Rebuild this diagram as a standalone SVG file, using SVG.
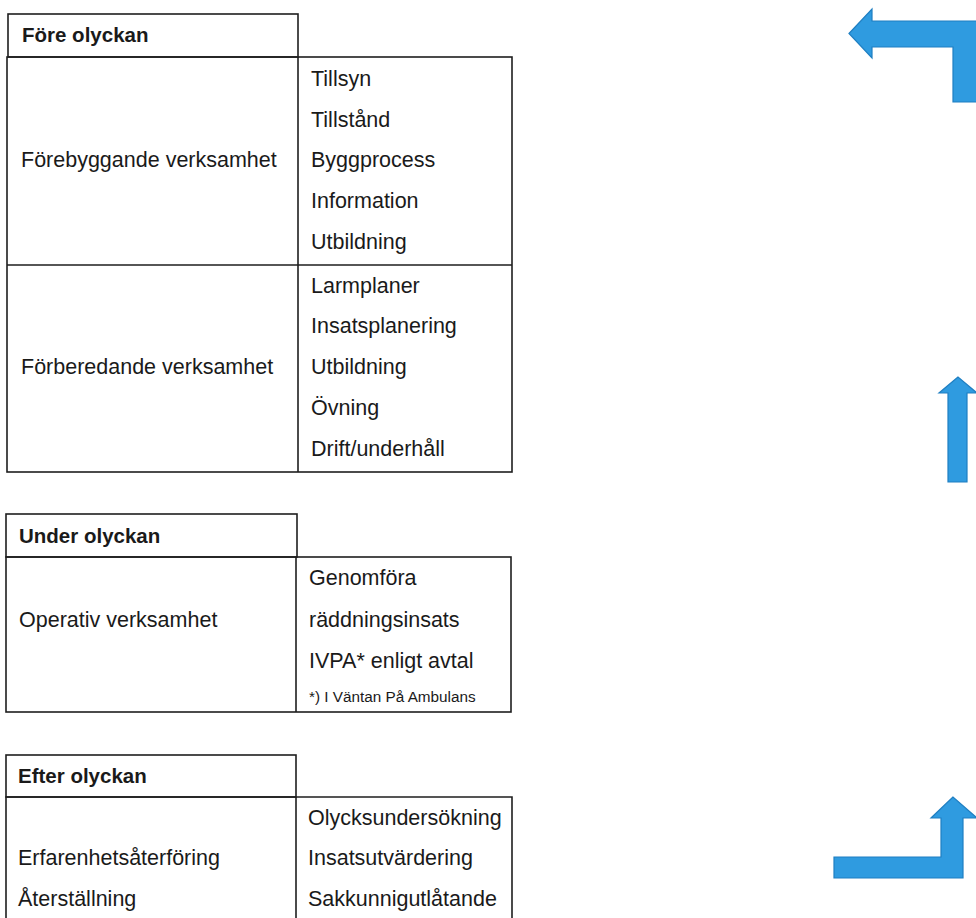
<svg xmlns="http://www.w3.org/2000/svg" width="976" height="918" viewBox="0 0 976 918">
<style>
.bx{fill:none;stroke:#1e1e1e;stroke-width:1.6}
.t{font-family:"Liberation Sans",Arial,sans-serif;font-size:21.5px;fill:#1a1a1a}
.h{font-family:"Liberation Sans",Arial,sans-serif;font-size:20.5px;font-weight:bold;fill:#1a1a1a}
.s{font-family:"Liberation Sans",Arial,sans-serif;font-size:15.3px;fill:#1a1a1a}
.ar{fill:#2f9be0;stroke:#1f7fc2;stroke-width:1.2}
</style>
<rect width="976" height="918" fill="#ffffff"/>

<g id="fore">
<rect class="bx" x="8" y="14" width="290" height="43"/>
<rect class="bx" x="7" y="57" width="505" height="415"/>
<line class="bx" x1="298" y1="57" x2="298" y2="472"/>
<line class="bx" x1="7" y1="265" x2="512" y2="265"/>
<text class="h" x="22" y="42">Före olyckan</text>
<text class="t" x="21" y="167">Förebyggande verksamhet</text>
<text class="t" x="311" y="86">Tillsyn</text>
<text class="t" x="311" y="127">Tillstånd</text>
<text class="t" x="311" y="167">Byggprocess</text>
<text class="t" x="311" y="208">Information</text>
<text class="t" x="311" y="249">Utbildning</text>
<text class="t" x="21" y="374">Förberedande verksamhet</text>
<text class="t" x="311" y="293">Larmplaner</text>
<text class="t" x="311" y="333">Insatsplanering</text>
<text class="t" x="311" y="374">Utbildning</text>
<text class="t" x="311" y="415">Övning</text>
<text class="t" x="311" y="456">Drift/underhåll</text>
</g>

<g id="under">
<rect class="bx" x="6" y="514" width="291" height="43"/>
<rect class="bx" x="6" y="557" width="505" height="155"/>
<line class="bx" x1="296" y1="557" x2="296" y2="712"/>
<text class="h" x="19" y="543">Under olyckan</text>
<text class="t" x="19" y="627">Operativ verksamhet</text>
<text class="t" x="309" y="585">Genomföra</text>
<text class="t" x="309" y="627">räddningsinsats</text>
<text class="t" x="309" y="668">IVPA* enligt avtal</text>
<text class="s" x="309" y="702">*) I Väntan På Ambulans</text>
</g>

<g id="efter">
<rect class="bx" x="6" y="755" width="290" height="42"/>
<polyline class="bx" points="6,930 6,797 512,797 512,930"/>
<line class="bx" x1="296" y1="797" x2="296" y2="930"/>
<text class="h" x="18" y="783">Efter olyckan</text>
<text class="t" x="18" y="865">Erfarenhetsåterföring</text>
<text class="t" x="18" y="906">Återställning</text>
<text class="t" x="308" y="825">Olycksundersökning</text>
<text class="t" x="308" y="865">Insatsutvärdering</text>
<text class="t" x="308" y="906">Sakkunnigutlåtande</text>
</g>

<g id="connectors">
<polygon class="ar" points="849,33.5 872,9 872,21 982,21 982,102 953,102 953,47 872,47 872,58"/>
<polygon class="ar" points="958,377 939,393 948,393 948,482 967,482 967,393 977,393"/>
<polygon class="ar" points="953,797 931,818 941,818 941,857 834,857 834,878 963,878 963,818 977,818"/>
</g>
</svg>
